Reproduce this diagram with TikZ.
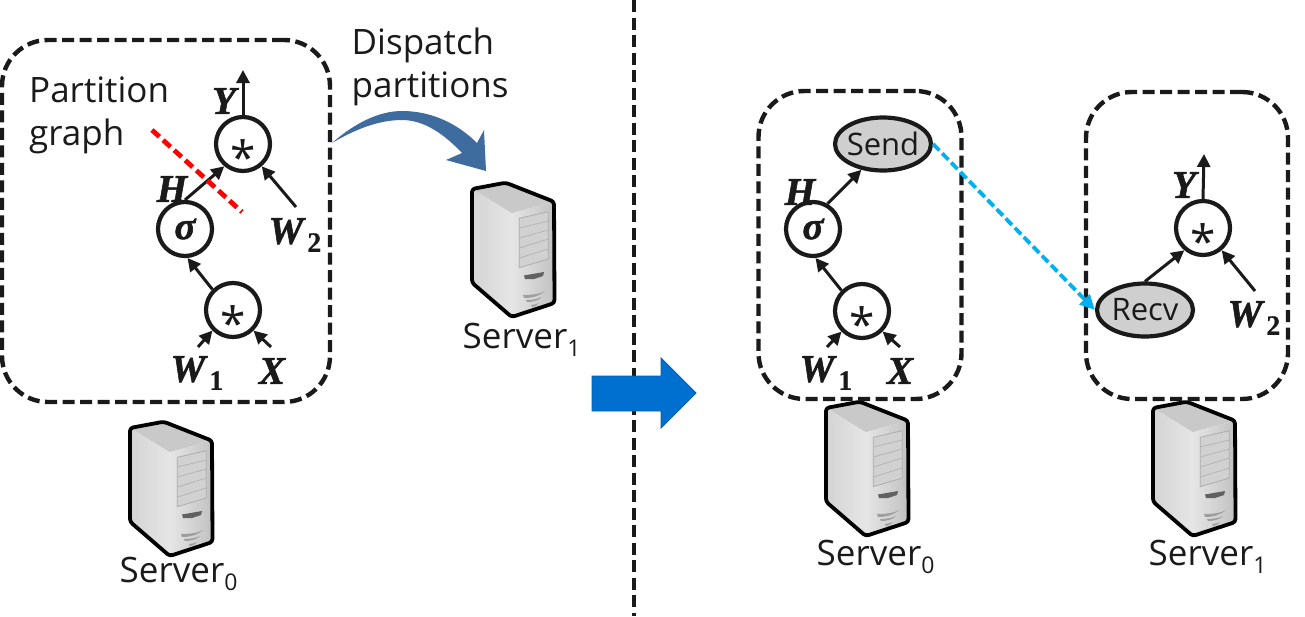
\documentclass[tikz,border=0pt]{standalone}
\usepackage{fontspec}
\setmainfont{Open Sans}
\newfontfamily\mathfnt[BoldItalicFeatures={FakeBold=1.5},BoldFeatures={FakeBold=0.5}]{Liberation Serif}
\usetikzlibrary{arrows.meta,shapes.geometric}
\definecolor{ink}{HTML}{1A1A1A}
\definecolor{curve}{HTML}{3F6C9E}
\definecolor{fatblue}{HTML}{0070D0}
\definecolor{wire}{HTML}{00B0F0}
\newcommand{\vlabel}[1]{{\mathfnt\bfseries\itshape #1}}
\newcommand{\vsub}[2]{{\mathfnt\bfseries\itshape #1\kern4pt\raisebox{-8pt}{\fontsize{28}{28}\selectfont\upshape #2}}}
\newcommand{\srv}[2]{#1\raisebox{-8pt}{\fontsize{23}{23}\selectfont #2}}
\newcommand{\starmark}{\smash{\raisebox{-30pt}{\fontsize{46}{46}\selectfont *}}}
\tikzset{
  x=1pt,y=-1pt,
  every node/.style={text=ink},
  groupbox/.style={draw=ink,line width=4.4pt,dash pattern=on 12pt off 5.5pt,rounded corners=46pt,inner sep=0pt},
  opnode/.style={draw=ink,circle,line width=4.2pt,minimum size=54pt,inner sep=0pt,fill=white},
  commnode/.style={draw=ink,ellipse,line width=4.2pt,minimum width=96pt,minimum height=53pt,inner sep=0pt,fill=black!19},
  flow/.style={draw=ink,line width=3pt,-{Triangle[length=13pt,width=13pt]}},
  maintext/.style={anchor=base west,inner sep=0pt,font=\fontsize{35}{35}\selectfont},
  smalltext/.style={anchor=center,inner sep=0pt,font=\fontsize{31}{31}\selectfont},
  varlabel/.style={inner sep=0pt,font=\fontsize{39}{39}\selectfont},
  pics/serverbox/.style={code={
    \fill[black!21] (0,0) -- (33.7,-6.3) -- (82,12.7) -- (39.7,24.3) -- cycle;
    \shade[left color=black!17,right color=black!10] (0,0) -- (39.7,24.3) -- (39.7,128) -- (0,93.7) -- cycle;
    \shade[left color=black!10,right color=black!24] (39.7,24.3) -- (82,12.7) -- (82,114) -- (39.7,128) -- cycle;
    \fill[black!18] (47.3,29.3) -- (76.3,22.7) -- (76.3,70) -- (47.3,78.7) -- cycle;
    \draw[black!32,line width=0.8pt] (47.3,29.3) -- (76.3,22.7) -- (76.3,70) -- (47.3,78.7) -- cycle;
    \draw[black!30,line width=0.7pt] (47.3,39) -- (76.3,32) (47.3,49) -- (76.3,41) (47.3,59) -- (76.3,50) (47.3,69) -- (76.3,60);
    \fill[black!62] (52,86.5) -- (72,83) -- (71,87) -- (62,90) -- (53,90) -- cycle;
    \fill[black!38] (51,106) .. controls (60,106) and (68,105) .. (73,102) .. controls (68,107) and (60,109) .. (52,109) -- cycle;
    \fill[black!38] (54,111) .. controls (60,111) and (66,110) .. (70,108) .. controls (66,112) and (60,113) .. (55,113) -- cycle;
    \fill[black!38] (59,116) .. controls (62,116) and (64,115) .. (67,114) .. controls (64,117) and (62,118) .. (60,118) -- cycle;
    \draw[black,line width=3.8pt,line join=round,rounded corners=3pt] (0,0) -- (33.7,-6.3) -- (82,12.7) -- (82.5,114) -- (39.7,128) -- (0,93.7) -- cycle;
  }}
}
\begin{document}
\begin{tikzpicture}
\useasboundingbox (0,0) rectangle (1305,616);
% divider
\coordinate (divtop) at (634,0);
\coordinate (divbot) at (634,616);
\draw[draw=ink,line width=4.4pt,dash pattern=on 12pt off 5.5pt] (divtop) -- (divbot);

% left group
\node[groupbox,minimum width=328pt,minimum height=362pt] (gleft) at (166,221) {};
\node[maintext] (tpart) at (29,102) {Partition};
\node[maintext] (tgraph) at (29,145) {graph};
\node[maintext] (tdisp) at (351.5,54) {Dispatch};
\node[maintext] (tparts) at (351.5,97) {partitions};

\node[opnode] (mtop) at (243,144) {\starmark};
\node[opnode] (sig) at (185,229) {\fontsize{39}{39}\selectfont\vlabel{σ}};
\node[opnode] (mbot) at (233,310) {\starmark};
\coordinate (yend) at (243,70);
\coordinate (w2start) at (296,207);
\coordinate (w1start) at (198,347);
\coordinate (xstart) at (271,347);
\coordinate (cutA) at (152,130);
\coordinate (cutB) at (242,212);
\draw[flow] (mtop.north) -- (yend);
\draw[flow] (w2start) -- (mtop.-50);
\draw[flow] (sig.north) -- (mtop.-130);
\draw[flow] (mbot.135) -- (sig.-85);
\draw[flow] (w1start) -- (mbot.-135);
\draw[flow] (xstart) -- (mbot.-45);
\draw[draw=red,line width=4.8pt,dash pattern=on 10pt off 5pt] (cutA) -- (cutB);
\node[varlabel] (ly1) at (224,101) {\vlabel{Y}};
\node[varlabel] (lh1) at (172,189) {\vlabel{H}};
\node[varlabel] (lw21) at (295,235) {\vsub{W}{2}};
\node[varlabel] (lw11) at (197,373) {\vsub{W}{1}};
\node[varlabel] (lx1) at (272,371) {\vlabel{X}};

% servers
\pic at (130,428) {serverbox};
\pic at (472,189) {serverbox};
\pic at (826,408) {serverbox};
\pic at (1153,408) {serverbox};
\node[maintext] (s0a) at (119.5,582) {\srv{Server}{0}};
\node[maintext] (s1a) at (462.5,348) {\srv{Server}{1}};
\node[maintext] (s0b) at (816.5,565) {\srv{Server}{0}};
\node[maintext] (s1b) at (1148.5,565) {\srv{Server}{1}};

% dispatch curved arrow
\fill[curve] (332,143) .. controls (356,122) and (380,111) .. (402,111)
  .. controls (432,111) and (458,124) .. (477,143) -- (484,130) -- (486,171) -- (446,160) -- (462,153)
  .. controls (444,134) and (424,120) .. (402,120) .. controls (378,120) and (354,130) .. (332,143) -- cycle;

% big arrow
\fill[fatblue,draw=fatblue!85!black,line width=0.8pt] (592,376) -- (661,376) -- (661,358) -- (696,393) -- (661,428) -- (661,411) -- (592,411) -- cycle;

% right groups
\node[groupbox,minimum width=203pt,minimum height=308pt] (gmid) at (860,245) {};
\node[groupbox,minimum width=202pt,minimum height=307pt] (gright) at (1187,245.5) {};

\node[commnode] (send) at (883,144) {};
\node[smalltext] (tsend) at (883,144) {Send};
\node[opnode] (sigb) at (813,229) {\fontsize{39}{39}\selectfont\vlabel{σ}};
\node[opnode] (mbotb) at (862,311) {\starmark};
\coordinate (w1bstart) at (827,347);
\coordinate (xbstart) at (900,347);
\draw[flow] (sigb.60) -- (send.-130);
\draw[flow] (mbotb.135) -- (sigb.-85);
\draw[flow] (w1bstart) -- (mbotb.-135);
\draw[flow] (xbstart) -- (mbotb.-45);
\node[varlabel] (lhb) at (800,192) {\vlabel{H}};
\node[varlabel] (lw1b) at (826,373) {\vsub{W}{1}};
\node[varlabel] (lxb) at (900,371) {\vlabel{X}};

\node[opnode] (mtopc) at (1203,228) {\starmark};
\node[commnode] (recv) at (1145,310) {};
\node[smalltext] (trecv) at (1145,310) {Recv};
\coordinate (yendc) at (1204,154);
\coordinate (w2c) at (1255,291);
\draw[flow] (mtopc.north) -- (yendc);
\draw[flow] (w2c) -- (mtopc.-50);
\draw[flow] (recv.north) -- (mtopc.-130);
\node[varlabel] (lyc) at (1184,185) {\vlabel{Y}};
\node[varlabel] (lw2c) at (1254,318) {\vsub{W}{2}};

\draw[draw=wire,line width=3.8pt,dash pattern=on 9pt off 4pt,-{Triangle[length=15pt,width=14pt]}] (send.east) -- (recv.west);
\end{tikzpicture}
\end{document}
